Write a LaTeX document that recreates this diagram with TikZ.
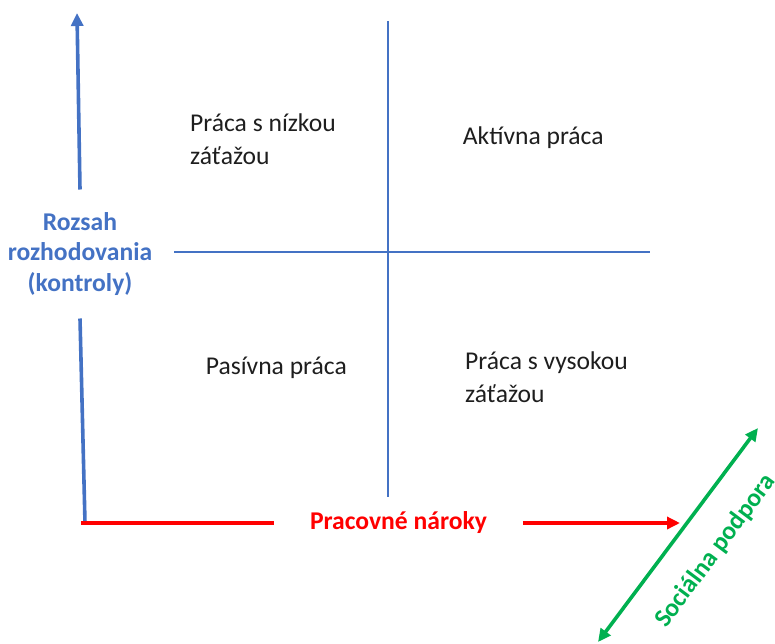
\documentclass[tikz,border=0pt]{standalone}
\usepackage{fontspec}
\setmainfont{Carlito}
\usetikzlibrary{arrows.meta}
\definecolor{axblue}{HTML}{4472C4}
\definecolor{axred}{HTML}{FF0000}
\definecolor{axgreen}{HTML}{00B050}
\definecolor{txt}{HTML}{1E1E1E}
\begin{document}
\begin{tikzpicture}[x=1pt,y=-1pt,
  quad/.style={font=\fontsize{25.6}{33}\selectfont, text=txt, align=left, anchor=base west, inner sep=0pt},
  axlabel/.style={font=\bfseries\fontsize{25.6}{30.5}\selectfont, align=center, inner sep=0pt},
  tipA/.style={-{Triangle[length=13pt,width=12pt]}},
  tipAB/.style={{Triangle[length=13pt,width=12pt]}-{Triangle[length=13pt,width=12pt]}},
  axis/.style={line width=3.6pt},
  thinline/.style={draw=axblue, line width=1.4pt},
]
\useasboundingbox (0,0) rectangle (775,644);
\coordinate (O) at (85,523);
\coordinate (ytip) at (77,13);
\coordinate (xtip) at (680,523);
\coordinate (vtop) at (388,21);
\coordinate (vbot) at (388,497);
\coordinate (hl) at (174,252);
\coordinate (hr) at (650,252);
\coordinate (gA) at (598,642);
\coordinate (gB) at (758,428);

% quadrant grid
\draw[thinline] (vtop) -- (vbot);
\draw[thinline] (hl) -- (hr);

% quadrant labels (base anchor = last line)
\node[quad] (q1) at (190,165) {Práca s nízkou\\záťažou};
\node[quad] (q2) at (462.7,145) {Aktívna práca};
\node[quad] (q3) at (205.7,374) {Pasívna práca};
\node[quad] (q4) at (465,402.5) {Práca s vysokou\\záťažou};

% vertical axis
\node[axlabel, text=axblue, outer ysep=23pt] (ylab) at (80,254) {Rozsah\\rozhodovania\\(kontroly)};
\draw[axblue, axis] (O) -- (ylab.south);
\draw[axblue, axis, tipA] (ylab.north) -- (ytip);

% horizontal axis
\node[axlabel, text=axred, outer xsep=36pt] (xlab) at (398.5,523) {Pracovné nároky};
\draw[axred, axis] ([xshift=-4pt]O) -- (xlab.west);
\draw[axred, axis, tipA] (xlab.east) -- (xtip);

% social support
\draw[axgreen, axis, tipAB] (gA) -- (gB);
\node[axlabel, text=axgreen, rotate=53.2] (glab) at (715.5,551) {Sociálna podpora};
\end{tikzpicture}
\end{document}
